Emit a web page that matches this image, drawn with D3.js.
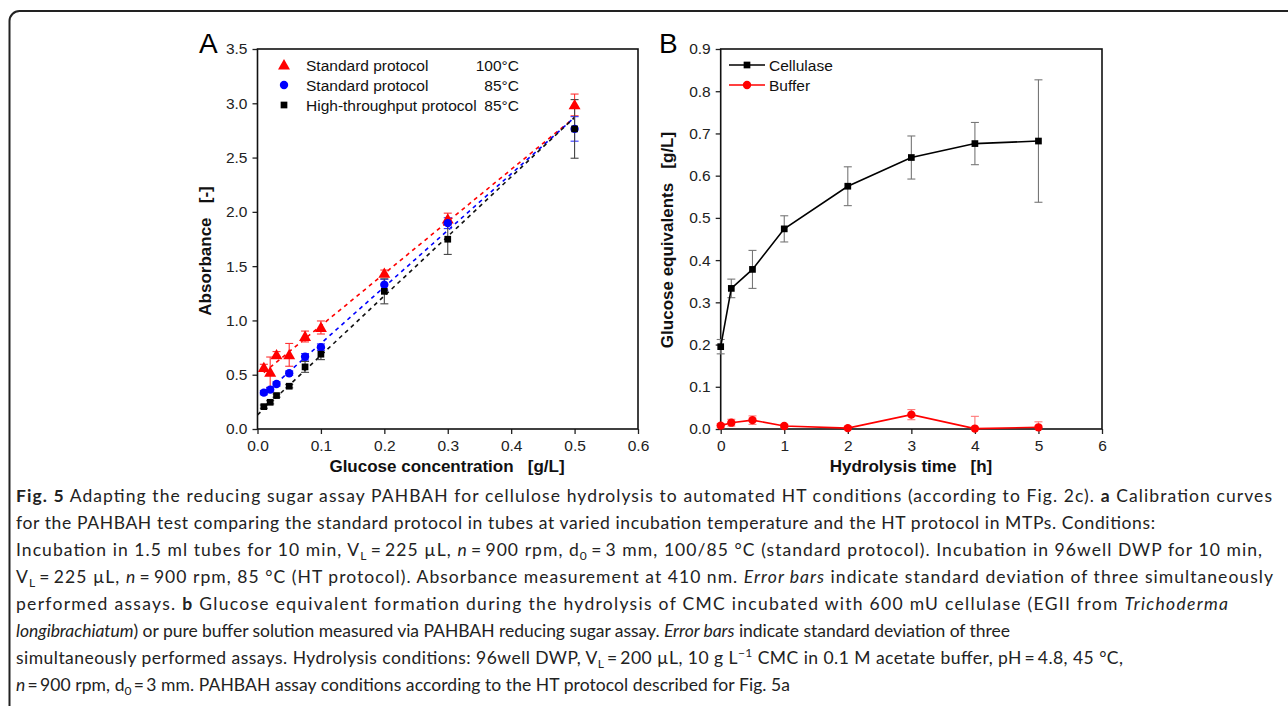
<!DOCTYPE html>
<html><head><meta charset="utf-8">
<script src="https://cdn.jsdelivr.net/npm/d3@7"></script>
<style>
html,body{margin:0;padding:0;background:#fff;}
svg{display:block;}
</style></head>
<body>
<svg id="chart" width="1288" height="706"></svg>
<script>
// ---------- Panel A data ----------
const concA = [0.01, 0.02, 0.03, 0.05, 0.075, 0.1, 0.2, 0.3, 0.5];
const std100 = [0.566, 0.523, 0.683, 0.683, 0.852, 0.935, 1.434, 1.933, 2.985];
const std100Err = [0.03, 0.14, 0.03, 0.105, 0.05, 0.06, 0.03, 0.055, 0.1];
const std85 = [0.335, 0.363, 0.415, 0.514, 0.665, 0.754, 1.329, 1.896, 2.764];
const std85Err = [0.02, 0.02, 0.02, 0.02, 0.03, 0.03, 0.05, 0.05, 0.113];
const ht85 = [0.206, 0.246, 0.308, 0.394, 0.572, 0.689, 1.268, 1.748, 2.764];
const ht85Err = [0.015, 0.015, 0.015, 0.015, 0.05, 0.05, 0.115, 0.14, 0.27];
const fit100 = [[0.01, 0.52], [0.5, 2.87]];
const fit85 = [[0.01, 0.32], [0.5, 2.87]];
const fitHT = [[0.0, 0.13], [0.5, 2.87]];
const xTicksA = [0, 0.1, 0.2, 0.3, 0.4, 0.5, 0.6];
const yTicksA = [0, 0.5, 1.0, 1.5, 2.0, 2.5, 3.0, 3.5];
const legendA = ["Standard protocol", "Standard protocol", "High-throughput protocol"];
const legendATemp = ["100°C", "85°C", "85°C"];

// ---------- Panel B data ----------
const timeB = [0, 0.167, 0.5, 1, 2, 3, 4, 5];
const cellulase = [0.195, 0.333, 0.378, 0.474, 0.575, 0.643, 0.676, 0.682];
const cellulaseErr = [0.017, 0.022, 0.045, 0.031, 0.046, 0.051, 0.05, 0.145];
const buffer = [0.008, 0.015, 0.021, 0.007, 0.002, 0.034, 0.001, 0.004];
const bufferErr = [0.005, 0.008, 0.01, 0.004, 0.004, 0.012, 0.029, 0.013];
const xTicksB = [0, 1, 2, 3, 4, 5, 6];
const yTicksB = [0, 0.1, 0.2, 0.3, 0.4, 0.5, 0.6, 0.7, 0.8, 0.9];
const legendB = ["Cellulase", "Buffer"];

// ---------- Caption ----------
const captionLines = [
  [["b","Fig. 5"],["n"," Adapting the reducing sugar assay PAHBAH for cellulose hydrolysis to automated HT conditions (according to Fig. 2c). "],["b","a"],["n"," Calibration curves"]],
  [["n","for the PAHBAH test comparing the standard protocol in tubes at varied incubation temperature and the HT protocol in MTPs. Conditions:"]],
  [["n","Incubation in 1.5 ml tubes for 10 min, V"],["sub","L"],["n","\u2009=\u2009225 µL, "],["i","n"],["n","\u2009=\u2009900 rpm, d"],["sub","0"],["n","\u2009=\u20093 mm, 100/85 °C (standard protocol). Incubation in 96well DWP for 10 min,"]],
  [["n","V"],["sub","L"],["n","\u2009=\u2009225 µL, "],["i","n"],["n","\u2009=\u2009900 rpm, 85 °C (HT protocol). Absorbance measurement at 410 nm. "],["i","Error bars"],["n"," indicate standard deviation of three simultaneously"]],
  [["n","performed assays. "],["b","b"],["n"," Glucose equivalent formation during the hydrolysis of CMC incubated with 600 mU cellulase (EGII from "],["i","Trichoderma"]],
  [["i","longibrachiatum"],["n",") or pure buffer solution measured via PAHBAH reducing sugar assay. "],["i","Error bars"],["n"," indicate standard deviation of three"]],
  [["n","simultaneously performed assays. Hydrolysis conditions: 96well DWP, V"],["sub","L"],["n","\u2009=\u2009200 µL, 10 g L"],["sup","\u22121"],["n"," CMC in 0.1 M acetate buffer, pH\u2009=\u20094.8, 45 °C,"]],
  [["i","n"],["n","\u2009=\u2009900 rpm, d"],["sub","0"],["n","\u2009=\u20093 mm. PAHBAH assay conditions according to the HT protocol described for Fig. 5a"]]
];
const captionEnds = [1272, 1155, 1262, 1273, 1228, 1010, 1123, 790];

const svg = d3.select("#chart");
const FONT = "Liberation Sans, Arial, sans-serif";

// outer frame
svg.append("rect").attr("x", 9.5).attr("y", 11).attr("width", 1300).attr("height", 720)
  .attr("rx", 10).attr("fill", "none").attr("stroke", "#222").attr("stroke-width", 2);

function drawFrame(g, x, y, xTicks, yTicks, xFmt, yFmt) {
  const [x0, x1] = x.range(), [y0, y1] = y.range();
  const ax = g.append("g").attr("transform", `translate(0,${y0})`)
    .call(d3.axisBottom(x).tickValues(xTicks).tickFormat(xFmt).tickSize(5).tickSizeOuter(0).tickPadding(6));
  const ay = g.append("g").attr("transform", `translate(${x0},0)`)
    .call(d3.axisLeft(y).tickValues(yTicks).tickFormat(yFmt).tickSize(5).tickSizeOuter(0).tickPadding(5));
  [ax, ay].forEach(a => {
    a.select(".domain").remove();
    a.selectAll("line").attr("stroke", "#222").attr("stroke-width", 1.3);
    a.selectAll("text").attr("font-family", FONT).attr("font-size", 15.5).attr("fill", "#222");
  });
  g.append("rect").attr("x", x0).attr("y", y1).attr("width", x1 - x0).attr("height", y0 - y1)
    .attr("fill", "none").attr("stroke", "#111").attr("stroke-width", 1.6);
}

function errorBars(g, x, y, xs, ys, es, color, cap) {
  const gg = g.append("g").attr("stroke", color).attr("stroke-width", 1.1);
  xs.forEach((xv, i) => {
    const lo = Math.max(0, ys[i] - es[i]), hi = ys[i] + es[i];
    const px = x(xv);
    gg.append("line").attr("x1", px).attr("x2", px).attr("y1", y(lo)).attr("y2", y(hi));
    gg.append("line").attr("x1", px - cap).attr("x2", px + cap).attr("y1", y(hi)).attr("y2", y(hi));
    if (ys[i] - es[i] >= 0)
      gg.append("line").attr("x1", px - cap).attr("x2", px + cap).attr("y1", y(lo)).attr("y2", y(lo));
  });
}

const symTri = d3.symbol().type(d3.symbolTriangle).size(62);
const symCirc = d3.symbol().type(d3.symbolCircle).size(55);
const symSq = d3.symbol().type(d3.symbolSquare).size(45);

// ================= Panel A =================
const gA = svg.append("g");
const xA = d3.scaleLinear().domain([0, 0.6]).range([257.5, 638]);
const yA = d3.scaleLinear().domain([0, 3.5]).range([429, 49]);
drawFrame(gA, xA, yA, xTicksA, yTicksA, d3.format(".1f"), d3.format(".1f"));

const lineA = d3.line().x(d => xA(d[0])).y(d => yA(d[1]));
[[fit100, "#f00"], [fit85, "#00f"], [fitHT, "#111"]].forEach(([f, c]) => {
  gA.append("path").attr("d", lineA(f)).attr("fill", "none").attr("stroke", c)
    .attr("stroke-width", 1.6).attr("stroke-dasharray", "4,4");
});

const seriesA = [
  {v: std100, e: std100Err, c: "#f00", ec: "#f33", s: symTri, dy: 1},
  {v: std85, e: std85Err, c: "#00f", ec: "#33f", s: symCirc, dy: 0},
  {v: ht85, e: ht85Err, c: "#000", ec: "#444", s: symSq, dy: 0}
];
seriesA.forEach(s => errorBars(gA, xA, yA, concA, s.v, s.e, s.ec, 4));
seriesA.forEach(s => {
  gA.append("g").selectAll("path").data(concA).join("path")
    .attr("d", s.s).attr("fill", s.c)
    .attr("transform", (d, i) => `translate(${xA(d)},${yA(s.v[i]) + s.dy})`);
});

// legend A
const legA = gA.append("g");
seriesA.forEach((s, i) => {
  const yy = 65 + i * 20;
  legA.append("path").attr("d", s.s).attr("fill", s.c).attr("transform", `translate(284,${yy + s.dy})`);
  legA.append("text").attr("x", 306).attr("y", yy + 5.5).attr("font-family", FONT).attr("font-size", 15.5)
    .attr("fill", "#111").text(legendA[i]);
  legA.append("text").attr("x", 519).attr("y", yy + 5.5).attr("text-anchor", "end").attr("font-family", FONT)
    .attr("font-size", 15.5).attr("fill", "#111").text(legendATemp[i]);
});

gA.append("text").attr("x", 447).attr("y", 472).attr("text-anchor", "middle").attr("font-family", FONT)
  .attr("font-size", 17).attr("font-weight", "bold").attr("fill", "#111").style("white-space", "pre")
  .text("Glucose concentration   [g/L]");
gA.append("text").attr("transform", "translate(211,251) rotate(-90)").attr("text-anchor", "middle")
  .attr("font-family", FONT).attr("font-size", 17).attr("font-weight", "bold").attr("fill", "#111")
  .style("white-space", "pre").text("Absorbance   [-]");
gA.append("text").attr("x", 199).attr("y", 53).attr("font-family", FONT).attr("font-size", 28).attr("fill", "#000").text("A");

// ================= Panel B =================
const gB = svg.append("g");
const xB = d3.scaleLinear().domain([0, 6]).range([720.7, 1102]);
const yB = d3.scaleLinear().domain([0, 0.9]).range([429, 49]);
drawFrame(gB, xB, yB, xTicksB, yTicksB, d3.format("d"), d3.format(".1f"));

const lineB = d3.line().x((d, i) => xB(timeB[i])).y(d => yB(d));
errorBars(gB, xB, yB, timeB, cellulase, cellulaseErr, "#777", 4);
errorBars(gB, xB, yB, timeB, buffer, bufferErr, "#f77", 4);
gB.append("path").attr("d", lineB(buffer)).attr("fill", "none").attr("stroke", "#f00").attr("stroke-width", 1.6);
gB.append("path").attr("d", lineB(cellulase)).attr("fill", "none").attr("stroke", "#000").attr("stroke-width", 1.6);
gB.append("g").selectAll("path").data(timeB).join("path").attr("d", symCirc).attr("fill", "#f00")
  .attr("transform", (d, i) => `translate(${xB(d)},${yB(buffer[i])})`);
gB.append("g").selectAll("path").data(timeB).join("path").attr("d", symSq).attr("fill", "#000")
  .attr("transform", (d, i) => `translate(${xB(d)},${yB(cellulase[i])})`);

const legB = gB.append("g");
[["#000", symSq], ["#f00", symCirc]].forEach(([c, s], i) => {
  const yy = 65 + i * 20;
  legB.append("line").attr("x1", 729).attr("x2", 765).attr("y1", yy).attr("y2", yy).attr("stroke", c).attr("stroke-width", 1.6);
  legB.append("path").attr("d", s).attr("fill", c).attr("transform", `translate(747,${yy})`);
  legB.append("text").attr("x", 769).attr("y", yy + 5.5).attr("font-family", FONT).attr("font-size", 15.5)
    .attr("fill", "#111").text(legendB[i]);
});

gB.append("text").attr("x", 911).attr("y", 472).attr("text-anchor", "middle").attr("font-family", FONT)
  .attr("font-size", 17).attr("font-weight", "bold").attr("fill", "#111").style("white-space", "pre")
  .text("Hydrolysis time   [h]");
gB.append("text").attr("transform", "translate(673,240) rotate(-90)").attr("text-anchor", "middle")
  .attr("font-family", FONT).attr("font-size", 17).attr("font-weight", "bold").attr("fill", "#111")
  .style("white-space", "pre").text("Glucose equivalents   [g/L]");
gB.append("text").attr("x", 659).attr("y", 53).attr("font-family", FONT).attr("font-size", 28).attr("fill", "#000").text("B");

// ================= Caption =================
const cap = svg.append("g").attr("font-family", "Lato, Open Sans, sans-serif").attr("font-size", 17.5).attr("fill", "#222");
captionLines.forEach((segs, li) => {
  const t = cap.append("text").attr("x", 16).attr("y", 502 + li * 27).style("white-space", "pre");
  let shift = 0;
  segs.forEach(([k, s]) => {
    const ts = t.append("tspan").text(s);
    let target = 0;
    if (k === "b") ts.attr("font-weight", "bold");
    if (k === "i") ts.attr("font-style", "italic");
    if (k === "sub") { ts.attr("font-size", 12); target = 4; }
    if (k === "sup") { ts.attr("font-size", 12); target = -7; }
    if (target !== shift) { ts.attr("dy", target - shift); shift = target; }
  });
  t.attr("textLength", captionEnds[li] - 16).attr("lengthAdjust", "spacing");
});
</script>
</body></html>
